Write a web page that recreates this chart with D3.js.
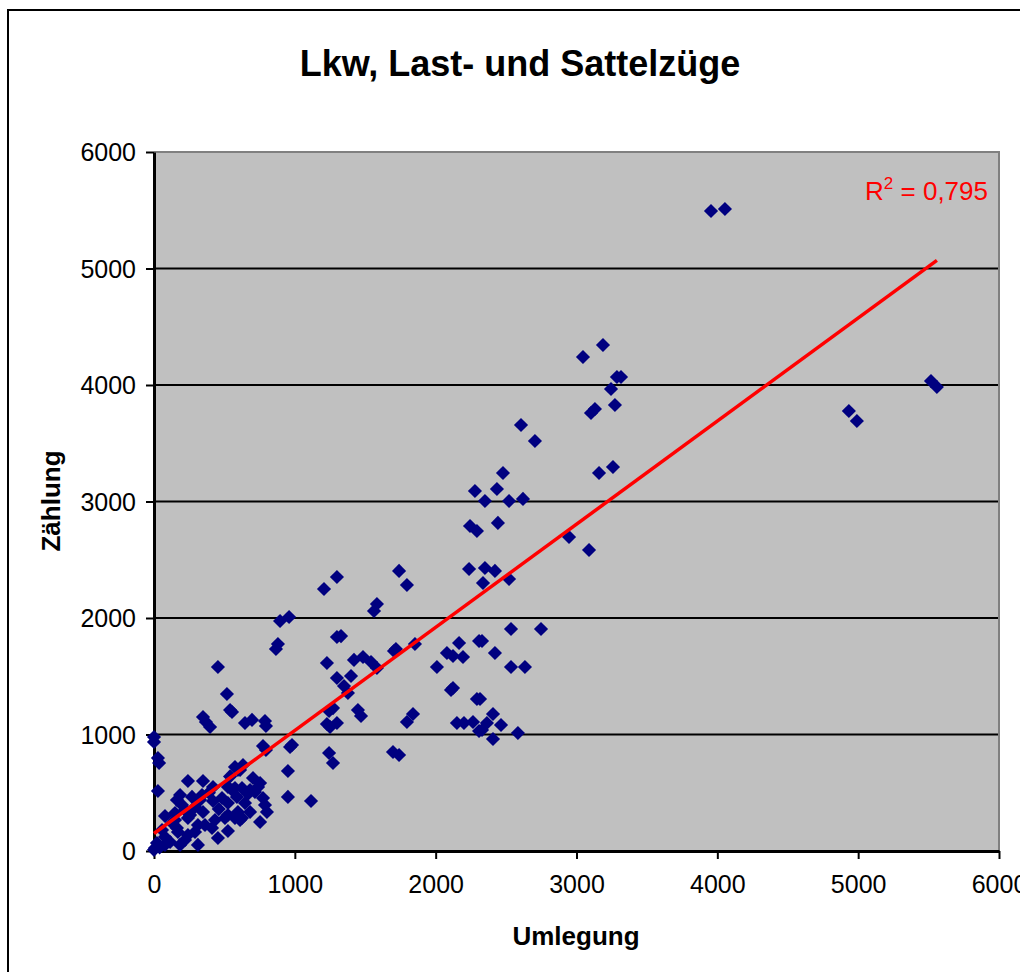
<!DOCTYPE html>
<html>
<head>
<meta charset="utf-8">
<script src="https://cdn.jsdelivr.net/npm/d3@7/dist/d3.min.js"></script>
<style>
  body { margin: 0; background: #fff; }
  svg { display: block; font-family: "Liberation Sans", Arial, sans-serif; }
</style>
</head>
<body>
<svg id="chart" width="1020" height="972"></svg>
<script>
// Umlegung (x) vs. Zählung (y)
const umlegung = [
  3955, 4054, 3046, 3188, 3287, 3316, 3245, 3273, 3103, 3131,
  4934, 4991, 5517, 5559, 2606, 2705, 2478, 3160, 3259,
  2279, 2435, 2350, 2521, 2620, 2244, 2293, 2442, 2947, 3089,
  2350, 2421, 2336, 2521, 2237,
  2535, 2748, 2329, 2421, 2535, 2634,
  2315, 2407, 2364, 2464, 2329, 2407, 2584,
  1207, 1299, 1740, 1796, 1583, 1562,
  1299, 1328, 1718, 1704, 1853,
  1228, 1420, 1484, 1541, 1583,
  1299, 1399, 1349, 1377,
  2009, 2080, 2166, 2123, 2194, 2308,
  2109, 2123, 2293,
  1243, 1271, 1448, 1470,
  1228, 1299, 1250, 1796, 1839,
  2151, 2201, 2265, 2308,
  1243, 1271, 1697, 1740, 1115,
  895, 959, 880, 866, 454, 518,
  348, 398, 369, 554, 540,
  646, 696, 788, 795,
  0, 0, 28, 36, 28,
  980, 774, 795, 951, 951,
  575, 596, 241, 348, 419, 525, 575,
  163, 185, 270, 341, 419, 483, 525, 589, 596, 575, 504, 433, 348, 220, 199, 291,
  525, 412, 312, 291, 312, 170, 128, 78, 78, 21, 7, 114, 220, 241, 57, 163, 241, 149,
  966, 703, 739, 717, 774, 788, 802, 753, 625, 625, 632, 611,
  753, 682, 525, 611, 667, 0, 40,
  149, 256, 362, 454, 185, 78, 327, 646, 682, 554, 540, 460, 390
];
const zaehlung = [
  5494, 5511, 4240, 4343, 4069, 4069, 3966, 3828, 3760, 3794,
  3777, 3691, 4034, 3983, 3657, 3519, 3245, 3245, 3296,
  3090, 3107, 3004, 3004, 3022, 2790, 2747, 2816, 2695, 2584,
  2429, 2404, 2300, 2335, 2421,
  1906, 1906, 1803, 1700, 1579, 1579,
  1305, 1176, 1099, 1082, 1039, 961, 1013,
  2249, 2352, 2404, 2283, 2120, 2060,
  1837, 1845, 1734, 1717, 1777,
  1614, 1640, 1665, 1622, 1571,
  1485, 1502, 1416, 1356,
  1579, 1700, 1785, 1674, 1665, 1803,
  1382, 1399, 1305,
  1202, 1227, 1210, 1159,
  1090, 1099, 1064, 1107, 1176,
  1099, 1099, 1107, 1030,
  841, 755, 850, 824, 429,
  1974, 2009, 1777, 1734, 1579, 1348,
  1150, 1064, 1107, 1193, 1210,
  1099, 1125, 1116, 1073,
  979, 936, 798, 755, 515,
  910, 901, 867, 687, 464,
  721, 695, 601, 601, 549, 549, 541,
  438, 481, 464, 481, 429, 455, 412, 464, 335, 283, 283, 266, 335, 352, 395, 378,
  172, 197, 223, 163, 52, 163, 240, 300, 120, 69, 26, 77, 94, 137, 180, 197, 283, 326,
  893, 627, 549, 506, 455, 395, 335, 249, 283, 541, 738, 695,
  584, 524, 309, 266, 490, 10, 30,
  266, 309, 223, 112, 52, 52, 438, 412, 335, 524, 640, 360, 500
];
const ticks = [0, 1000, 2000, 3000, 4000, 5000, 6000];
const trendSlope = 0.885;
const trendIntercept = 150;
const rSquaredLabel = '0,795';

const svg = d3.select('#chart');

// outer chart frame
svg.append('rect')
  .attr('x', 8).attr('y', 10)
  .attr('width', 1040).attr('height', 1000)
  .attr('fill', '#fff')
  .attr('stroke', '#000').attr('stroke-width', 2);

const x = d3.scaleLinear().domain([0, 6000]).range([154, 999]);
const y = d3.scaleLinear().domain([0, 6000]).range([851, 152]);

// plot area
svg.append('rect')
  .attr('x', x(0)).attr('y', y(6000))
  .attr('width', x(6000) - x(0)).attr('height', y(0) - y(6000))
  .attr('fill', '#c0c0c0');

// gridlines
svg.append('g')
  .selectAll('line')
  .data(ticks.filter(function(d) { return d > 0 && d < 6000; }))
  .enter().append('line')
  .attr('x1', x(0)).attr('x2', x(6000))
  .attr('y1', function(d) { return y(d); })
  .attr('y2', function(d) { return y(d); })
  .attr('stroke', '#000').attr('stroke-width', 2);

// gray top / right border
svg.append('path')
  .attr('d', 'M' + x(0) + ',' + y(6000) + 'H' + x(6000) + 'V' + y(0))
  .attr('fill', 'none').attr('stroke', '#808080').attr('stroke-width', 2);

// axes
const fmt = d3.format('d');
const yAxis = svg.append('g')
  .attr('transform', 'translate(' + x(0) + ',0)')
  .call(d3.axisLeft(y).tickValues(ticks).tickFormat(fmt).tickSize(8).tickPadding(10).tickSizeOuter(0));
const xAxis = svg.append('g')
  .attr('transform', 'translate(0,' + y(0) + ')')
  .call(d3.axisBottom(x).tickValues(ticks).tickFormat(fmt).tickSize(8).tickPadding(16).tickSizeOuter(0));

[yAxis, xAxis].forEach(function(a) {
  a.select('.domain').attr('stroke', '#000').attr('stroke-width', 3);
  a.selectAll('.tick line').attr('stroke', '#000').attr('stroke-width', 2);
  a.selectAll('.tick text')
    .attr('fill', '#000')
    .style('font-size', '25px')
    .style('font-family', '"Liberation Sans", Arial, sans-serif');
});
yAxis.selectAll('.tick text').attr('dy', '0.35em');

// points
const points = umlegung.map(function(d, i) { return [d, zaehlung[i]]; });
const diamond = d3.symbol().type(d3.symbolSquare).size(100);
svg.append('g')
  .selectAll('path')
  .data(points)
  .enter().append('path')
  .attr('d', diamond)
  .attr('transform', function(d) { return 'translate(' + x(d[0]) + ',' + y(d[1]) + ') rotate(45)'; })
  .attr('fill', '#000080');

// linear trendline
const xMin = d3.min(umlegung);
const xMax = d3.max(umlegung);
svg.append('line')
  .attr('x1', x(xMin)).attr('y1', y(trendSlope * xMin + trendIntercept))
  .attr('x2', x(xMax)).attr('y2', y(trendSlope * xMax + trendIntercept))
  .attr('stroke', '#ff0000').attr('stroke-width', 3.5);

// R² label
const r2 = svg.append('text')
  .attr('x', 988).attr('y', 200)
  .attr('text-anchor', 'end')
  .attr('fill', '#ff0000')
  .style('font-size', '26px');
r2.append('tspan').text('R');
r2.append('tspan').attr('dy', -11).style('font-size', '17px').text('2');
r2.append('tspan').attr('dy', 11).text(' = ' + rSquaredLabel);

// title
svg.append('text')
  .attr('x', 520).attr('y', 76)
  .attr('text-anchor', 'middle')
  .style('font-size', '36px').style('font-weight', 'bold')
  .text('Lkw, Last- und Sattelzüge');

// axis titles
svg.append('text')
  .attr('x', 576).attr('y', 945)
  .attr('text-anchor', 'middle')
  .style('font-size', '26px').style('font-weight', 'bold')
  .text('Umlegung');
svg.append('text')
  .attr('transform', 'translate(60,501) rotate(-90)')
  .attr('text-anchor', 'middle')
  .style('font-size', '26px').style('font-weight', 'bold')
  .text('Zählung');
</script>
</body>
</html>
